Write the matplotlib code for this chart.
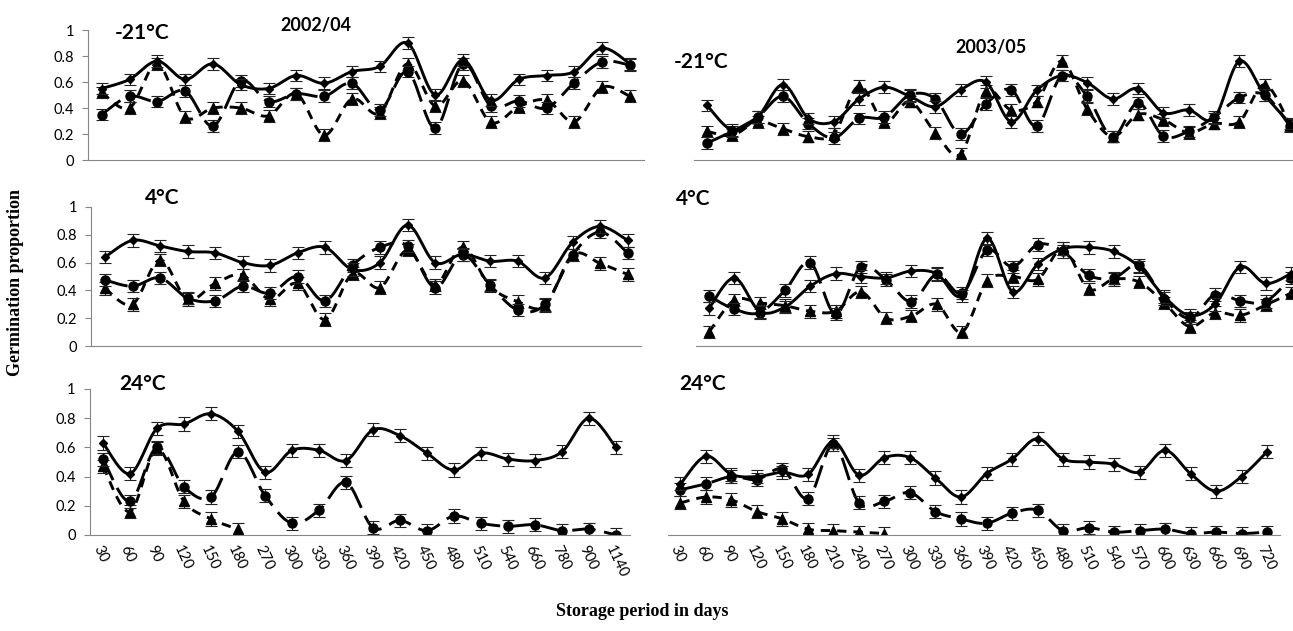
import matplotlib.pyplot as plt
import numpy as np

plt.rcParams['font.family'] = ['Lato', 'DejaVu Sans']

# storage periods (days)
days_0204 = [30, 60, 90, 120, 150, 180, 270, 300, 330, 360, 390, 420, 450, 480,
             510, 540, 660, 780, 900, 1140]
days_0305 = [30, 60, 90, 120, 150, 180, 210, 240, 270, 300, 330, 360, 390, 420,
             450, 480, 510, 540, 570, 600, 630, 660, 690, 720]

# 2002/04 - germination proportions (diamond / circle / triangle series)
m21_0204_dia = [0.55, 0.62, 0.76, 0.62, 0.74, 0.58, 0.55, 0.65, 0.59, 0.68,
                0.72, 0.90, 0.50, 0.77, 0.46, 0.62, 0.65, 0.68, 0.86, 0.74]
m21_0204_cir = [0.35, 0.49, 0.45, 0.53, 0.26, 0.61, 0.45, 0.51, 0.49, 0.59,
                0.385, 0.68, 0.245, 0.74, 0.415, 0.455, 0.40, 0.595, 0.755, 0.73]
m21_0204_tri = [0.52, 0.40, 0.74, 0.33, 0.40, 0.40, 0.34, 0.51, 0.19, 0.47,
                0.36, 0.74, 0.415, 0.61, 0.29, 0.41, 0.46, 0.295, 0.56, 0.49]

p4_0204_dia = [0.64, 0.76, 0.72, 0.68, 0.67, 0.60, 0.58, 0.67, 0.71, 0.55,
               0.60, 0.87, 0.60, 0.66, 0.61, 0.61, 0.49, 0.745, 0.86, 0.76]
p4_0204_cir = [0.475, 0.43, 0.49, 0.345, 0.325, 0.43, 0.38, 0.50, 0.325, 0.58,
               0.71, 0.72, 0.42, 0.655, 0.44, 0.26, 0.30, 0.655, 0.82, 0.67]
p4_0204_tri = [0.415, 0.30, 0.62, 0.335, 0.45, 0.51, 0.335, 0.45, 0.19, 0.52,
               0.42, 0.69, 0.44, 0.71, 0.43, 0.32, 0.29, 0.655, 0.595, 0.515]

p24_0204_dia = [0.63, 0.42, 0.73, 0.76, 0.83, 0.71, 0.43, 0.58, 0.58, 0.51,
                0.72, 0.68, 0.56, 0.445, 0.56, 0.52, 0.51, 0.57, 0.80, 0.60]
p24_0204_cir = [0.52, 0.23, 0.60, 0.33, 0.26, 0.57, 0.27, 0.08, 0.17, 0.36,
                0.05, 0.10, 0.03, 0.13, 0.08, 0.06, 0.07, 0.03, 0.04, 0.00]
p24_0204_tri = [0.47, 0.16, 0.59, 0.23, 0.11, 0.04, None, None, None, None,
                None, None, None, None, None, None, None, None, None, None]

# 2003/05
m21_0305_dia = [0.42, 0.23, 0.33, 0.58, 0.32, 0.295, 0.47, 0.56, 0.49, 0.41, 0.54, 0.60,
                0.295, 0.535, 0.65, 0.595, 0.47, 0.55, 0.365, 0.385, 0.32, 0.76, 0.50, 0.28]
m21_0305_cir = [0.13, 0.22, 0.33, 0.49, 0.28, 0.17, 0.32, 0.33, 0.50, 0.47, 0.20, 0.43,
                0.54, 0.26, 0.65, 0.49, 0.18, 0.44, 0.185, 0.22, 0.33, 0.48, 0.50, 0.26]
m21_0305_tri = [0.22, 0.19, 0.295, 0.24, 0.18, 0.20, 0.57, 0.29, 0.45, 0.21, 0.045, 0.53,
                0.385, 0.45, 0.76, 0.39, 0.18, 0.35, 0.31, 0.21, 0.28, 0.295, 0.58, 0.27]

p4_0305_dia = [0.27, 0.49, 0.25, 0.28, 0.43, 0.52, 0.50, 0.49, 0.54, 0.52, 0.36, 0.775,
               0.39, 0.59, 0.70, 0.71, 0.68, 0.57, 0.355, 0.22, 0.30, 0.57, 0.45, 0.52]
p4_0305_cir = [0.36, 0.265, 0.24, 0.40, 0.60, 0.23, 0.57, 0.475, 0.32, 0.515, 0.38, 0.69,
               0.57, 0.73, 0.68, 0.51, 0.49, 0.58, 0.34, 0.20, 0.37, 0.325, 0.32, 0.49]
p4_0305_tri = [0.10, 0.33, 0.31, 0.29, 0.25, 0.25, 0.39, 0.20, 0.215, 0.30, 0.10, 0.47,
               0.50, 0.48, 0.70, 0.41, 0.48, 0.46, 0.31, 0.14, 0.24, 0.22, 0.295, 0.38]

p24_0305_dia = [0.35, 0.54, 0.415, 0.40, 0.43, 0.415, 0.64, 0.41, 0.53, 0.53, 0.39, 0.26,
                0.42, 0.52, 0.66, 0.52, 0.50, 0.485, 0.43, 0.58, 0.42, 0.30, 0.40, 0.57]
p24_0305_cir = [0.31, 0.35, 0.40, 0.38, 0.45, 0.25, 0.62, 0.22, 0.23, 0.29, 0.16, 0.11,
                0.08, 0.15, 0.17, 0.03, 0.05, 0.02, 0.03, 0.04, 0.01, 0.02, 0.01, 0.02]
p24_0305_tri = [0.22, 0.26, 0.24, 0.16, 0.11, 0.04, 0.03, 0.02, 0.01, None, None, None,
                None, None, None, None, None, None, None, None, None, None, None, None]

ERR = 0.045  # approx. standard error shown on every point


def smooth(x, y, n=16):
    # Excel style smoothed line (Catmull-Rom through the points)
    x = np.asarray(x, float)
    y = np.asarray(y, float)
    px = np.concatenate([[x[0]], x, [x[-1]]])
    py = np.concatenate([[y[0]], y, [y[-1]]])
    t = np.linspace(0, 1, n)[:, None]
    out_x, out_y = [], []
    for p, out in ((px, out_x), (py, out_y)):
        p0, p1, p2, p3 = p[:-3], p[1:-2], p[2:-1], p[3:]
        seg = 0.5 * (2 * p1 + (-p0 + p2) * t + (2 * p0 - 5 * p1 + 4 * p2 - p3) * t ** 2
                     + (-p0 + 3 * p1 - 3 * p2 + p3) * t ** 3)
        out.append(seg.T.ravel())
    return out_x[0], out_y[0]


def draw_series(ax, vals, ls, marker, ms):
    y = np.array([np.nan if v is None else v for v in vals], float)
    x = np.arange(len(y))
    ok = ~np.isnan(y)
    if ok.sum() > 1:
        sx, sy = smooth(x[ok], y[ok])
        ax.plot(sx, sy, color='black', lw=2.1, ls=ls, solid_capstyle='butt')
    ax.errorbar(x[ok], y[ok], yerr=ERR, fmt='none', ecolor='#222222',
                elinewidth=0.8, capsize=4.3, capthick=0.8)
    ax.plot(x[ok], y[ok], ls='none', marker=marker, ms=ms, color='black')


def panel(rect, cats, dia, cir, tri, left_axis, xlabels):
    ax = fig.add_axes(rect)
    draw_series(ax, tri, (0, (3.2, 2.4)), '^', 6.5)
    draw_series(ax, cir, (0, (8, 3)), 'o', 6.5)
    draw_series(ax, dia, '-', 'D', 4.5)
    ax.set_xlim(-0.5, len(cats) - 0.5)
    ax.set_ylim(0, 1)
    for s in ('top', 'right'):
        ax.spines[s].set_visible(False)
    ax.spines['bottom'].set_color('#868686')
    ax.spines['left'].set_color('#868686')
    if left_axis:
        ax.set_yticks([0, 0.2, 0.4, 0.6, 0.8, 1])
        ax.set_yticklabels(['0', '0.2', '0.4', '0.6', '0.8', '1'])
        ax.tick_params(axis='y', length=4, color='#868686', labelsize=10.5, pad=6)
    else:
        ax.spines['left'].set_visible(False)
        ax.set_yticks([])
    ax.set_xticks(range(len(cats)))
    if xlabels:
        ax.set_xticklabels([str(c) for c in cats], rotation=-65, ha='left',
                           va='top', rotation_mode='anchor', fontsize=10.5)
        ax.tick_params(axis='x', length=0, pad=6)
    else:
        ax.set_xticklabels([])
        ax.tick_params(axis='x', length=0)
    return ax


W, H = 1293, 631
fig = plt.figure(figsize=(W / 100, H / 100), dpi=100)


def rect(x0, x_step, n, y0, y1):
    left = x0 - x_step / 2
    return [left / W, 1 - y0 / H, n * x_step / W, (y0 - y1) / H]


panel(rect(101.7, 27.8, 20, 160, 30), days_0204, m21_0204_dia, m21_0204_cir, m21_0204_tri, True, False)
panel(rect(105, 27.5, 20, 346, 207), days_0204, p4_0204_dia, p4_0204_cir, p4_0204_tri, True, False)
panel(rect(103, 27.0, 20, 535, 389), days_0204, p24_0204_dia, p24_0204_cir, p24_0204_tri, True, True)
panel(rect(707, 25.35, 24, 160, 30), days_0305, m21_0305_dia, m21_0305_cir, m21_0305_tri, False, False)
panel(rect(709, 25.3, 24, 346, 207), days_0305, p4_0305_dia, p4_0305_cir, p4_0305_tri, False, False)
panel(rect(680.5, 25.5, 24, 535, 389), days_0305, p24_0305_dia, p24_0305_cir, p24_0305_tri, False, True)

# panel labels
lab = dict(fontsize=15, fontweight='bold', ha='center', va='center')
fig.text(142 / W, 1 - 33 / H, '-21°C', **lab)
fig.text(701 / W, 1 - 62 / H, '-21°C', **lab)
fig.text(162 / W, 1 - 198 / H, '4°C', **lab)
fig.text(693 / W, 1 - 199 / H, '4°C', **lab)
fig.text(143 / W, 1 - 384 / H, '24°C', **lab)
fig.text(703 / W, 1 - 384 / H, '24°C', **lab)
fig.text(316 / W, 1 - 25 / H, '2002/04', fontsize=13, fontweight='bold', ha='center', va='center')
fig.text(991 / W, 1 - 47 / H, '2003/05', fontsize=13, fontweight='bold', ha='center', va='center')

fig.text(16 / W, 1 - 283 / H, 'Germination proportion', rotation=90, ha='center', va='center',
         fontsize=13, fontweight='bold', family='Liberation Serif')
fig.text(642 / W, 1 - 612 / H, 'Storage period in days', ha='center', va='center',
         fontsize=13, fontweight='bold', family='Liberation Serif')

fig.savefig('out.png', dpi=100)
